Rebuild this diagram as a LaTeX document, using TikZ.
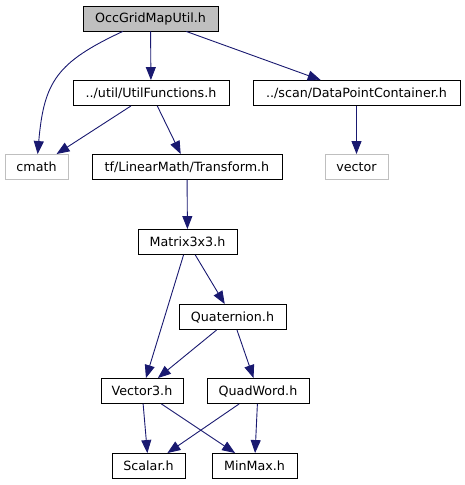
\documentclass[tikz,border=0pt]{standalone}
\usepackage{fontspec}
\setmainfont{DejaVu Sans}
\usetikzlibrary{arrows.meta}
\definecolor{edgeblue}{RGB}{25,25,112}
\definecolor{sysgray}{RGB}{191,191,191}

\begin{document}
\begin{tikzpicture}[
        % pixel units, y grows downwards like the reference
        x=1pt, y=-1pt,
        every node/.style={font=\fontsize{12.7}{15}\selectfont, inner sep=0pt},
        file/.style={draw=black, fill=white, line width=0.9pt,
                     minimum height=25pt},
        sysfile/.style={file, draw=sysgray},
        current/.style={file, fill=sysgray},
        edge/.style={-{Triangle[length=13pt, width=10pt]}, color=edgeblue,
                     line width=0.9pt}
    ]
    \useasboundingbox (0,0) rectangle (465,485);

    % --- Top level ---
    \node[current, minimum width=135pt] (occ) at (150.5,18.5) {OccGridMapUtil.h};

    % --- Direct includes ---
    \node[file, minimum width=156pt] (util) at (151,93) {../util/UtilFunctions.h};
    \node[file, minimum width=207pt] (dpc) at (356.5,93) {../scan/DataPointContainer.h};

    % --- Third row ---
    \node[sysfile, minimum width=63pt] (cmath) at (36.5,167) {cmath};
    \node[file, minimum width=190pt] (transform) at (187,167) {tf/LinearMath/Transform.h};
    \node[sysfile, minimum width=63pt] (vector) at (356.5,167) {vector};

    % --- LinearMath headers ---
    \node[file, minimum width=99pt] (matrix) at (187.5,242) {Matrix3x3.h};
    \node[file, minimum width=107pt] (quat) at (232.5,317) {Quaternion.h};
    \node[file, minimum width=82pt] (vec3) at (142,391) {Vector3.h};
    \node[file, minimum width=102pt] (quadword) at (258,391) {QuadWord.h};
    \node[file, minimum width=73pt] (scalar) at (148.5,466) {Scalar.h};
    \node[file, minimum width=85pt] (minmax) at (254.5,466) {MinMax.h};

    % --- Edges ---
    \draw[edge] (occ) to[out=205, in=85, looseness=1.25] (cmath);
    \draw[edge] (occ) -- (util);
    \draw[edge] (occ) -- (dpc);

    \draw[edge] (util) -- (cmath);
    \draw[edge] (util) -- (transform);
    \draw[edge] (dpc) -- (vector);

    \draw[edge] (transform) -- (matrix);
    \draw[edge] (matrix) -- (vec3);
    \draw[edge] (matrix) -- (quat);
    \draw[edge] (quat) -- (vec3);
    \draw[edge] (quat) -- (quadword);

    \draw[edge] (vec3) -- (scalar);
    \draw[edge] (vec3) -- (minmax);
    \draw[edge] (quadword) -- (scalar);
    \draw[edge] (quadword) -- (minmax);

\end{tikzpicture}
\end{document}
